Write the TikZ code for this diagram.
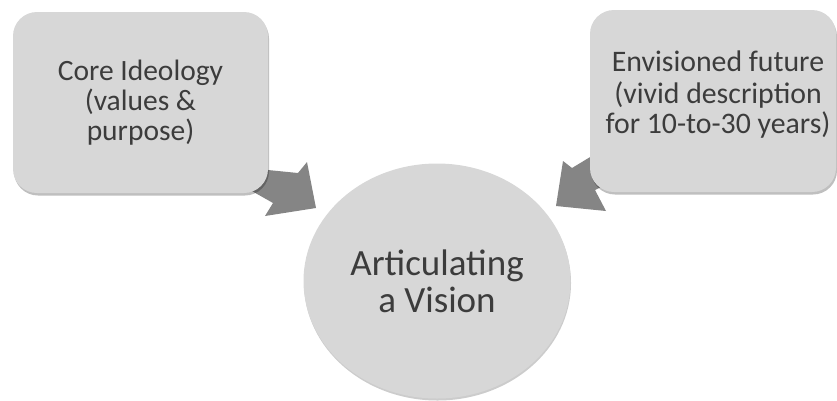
\documentclass[tikz,border=0pt]{standalone}
\usepackage{fontspec}
\setmainfont{Carlito}
\usetikzlibrary{shapes.geometric,shadows}
\definecolor{boxfill}{HTML}{D7D7D7}
\definecolor{txt}{HTML}{3C3C3C}
\definecolor{arrowfill}{HTML}{858585}
\tikzset{
  roundbox/.style={draw=none, fill=boxfill, rounded corners=24pt,
    drop shadow={shadow xshift=1pt, shadow yshift=-2.5pt, opacity=0.25, fill=black}},
  oval/.style={ellipse, draw=none, fill=boxfill,
    drop shadow={shadow xshift=0.5pt, shadow yshift=-2pt, opacity=0.2, fill=black}},
  label text/.style={text=txt, align=center, inner sep=0pt},
  blockarrow/.style={fill=arrowfill, draw=none},
}
\begin{document}
\begin{tikzpicture}[x=1pt,y=-1pt]
\useasboundingbox (0,0) rectangle (837,400);
% block arrows (drawn first so boxes hide their tails)
\fill[blockarrow] (248,168) -- (298,173) -- (307,162) -- (316,208) -- (265,216) -- (273,203) -- (243,186) -- cycle;
\fill[blockarrow] (610,145) -- (572,168) -- (563,161) -- (556,206) -- (606,211) -- (595,190) -- (625,175) -- cycle;
% boxes
\node[roundbox, minimum width=255pt, minimum height=181pt] (core) at (140.5,102.5) {};
\node[label text, font=\fontsize{29.5}{30}\selectfont] (coretext) at (core.center)
  {Core Ideology\\(values \&\\purpose)};
\node[roundbox, minimum width=246pt, minimum height=182pt] (future) at (713,101) {};
\node[label text, font=\fontsize{29.8}{30}\selectfont] (futuretext) at (718,95)
  {Envisioned future\\[2pt](vivid description\\for 10-to-30 years)};
% circle
\node[oval, minimum width=267pt, minimum height=235pt] (vision) at (437,281) {};
\node[label text, font=\fontsize{37}{37}\selectfont] (visiontext) at (vision.center)
  {Articulating\\a Vision};
\end{tikzpicture}
\end{document}
